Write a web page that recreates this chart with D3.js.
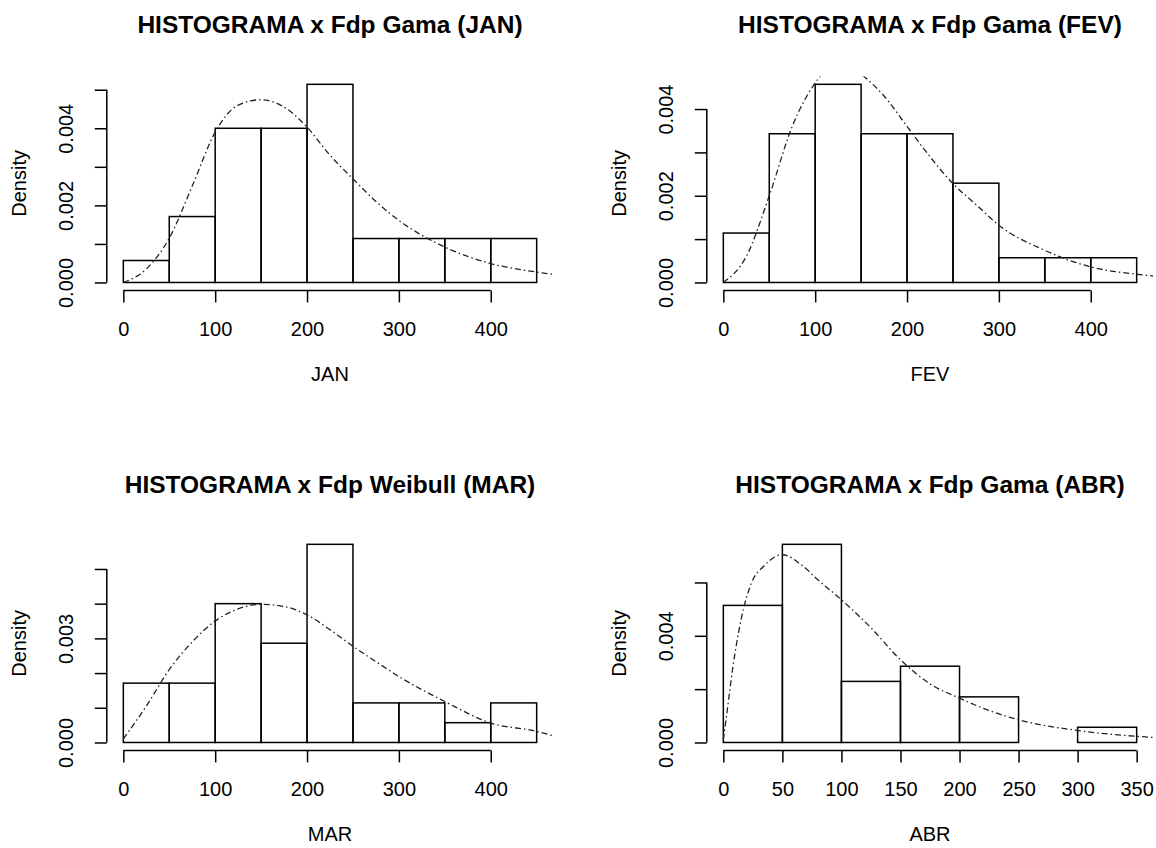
<!DOCTYPE html>
<html>
<head>
<meta charset="utf-8">
<script src="https://cdn.jsdelivr.net/npm/d3@7"></script>
<style>
body { margin: 0; background: #fff; }
text { font-family: "Liberation Sans", Arial, Helvetica, sans-serif; fill: #000; }
</style>
</head>
<body>
<script>
// Histogram breaks (bins of width 50)
var breaksMain = [0, 50, 100, 150, 200, 250, 300, 350, 400, 450],
    breaksAbr = [0, 50, 100, 150, 200, 250, 300, 350];

// Bar densities
var densJan = [0.00057, 0.00171, 0.0040, 0.0040, 0.00514, 0.00114, 0.00114, 0.00114, 0.00114],
    densFev = [0.00114, 0.00343, 0.00457, 0.00343, 0.00343, 0.00229, 0.00057, 0.00057, 0.00057],
    densMar = [0.00171, 0.00171, 0.0040, 0.00286, 0.00571, 0.00114, 0.00114, 0.00057, 0.00114],
    densAbr = [0.00514, 0.00743, 0.00229, 0.00286, 0.00171, 0, 0.00057];

// Fitted density curves
var curveXJan = [0, 25, 50, 75, 100, 125, 150, 175, 200, 225, 250, 275, 300, 350, 400, 450, 468],
    curveYJan = [0, 0.00035, 0.00115, 0.0025, 0.0039, 0.0046, 0.00474, 0.00455, 0.00403, 0.0033, 0.00269, 0.0021, 0.00161, 0.00092, 0.00049, 0.00027, 0.00021];
var curveXFev = [0, 25, 50, 75, 100, 125, 150, 175, 200, 225, 250, 275, 300, 350, 400, 450, 468],
    curveYFev = [0, 0.0006, 0.002, 0.0036, 0.0046, 0.0051, 0.0048, 0.0043, 0.0036, 0.0029, 0.00228, 0.0018, 0.00132, 0.00074, 0.00036, 0.00019, 0.00015];
var curveXMar = [0, 25, 50, 75, 100, 125, 150, 175, 200, 225, 250, 275, 300, 350, 400, 450, 468],
    curveYMar = [0.0001, 0.00105, 0.0021, 0.0029, 0.0035, 0.00385, 0.00398, 0.00392, 0.00368, 0.00325, 0.00277, 0.00233, 0.0019, 0.00118, 0.00056, 0.00032, 0.00019];
var curveXAbr = [0, 3, 8, 15, 24, 34, 50, 65, 80, 100, 125, 150, 175, 200, 225, 250, 300, 350, 364],
    curveYAbr = [0.0001, 0.0011, 0.0028, 0.0046, 0.006, 0.0066, 0.00704, 0.0067, 0.0061, 0.00535, 0.0043, 0.0031, 0.0022, 0.00166, 0.0012, 0.00085, 0.00045, 0.00023, 0.00019];

// Axis ticks and labels
var xTicksMain = [0, 100, 200, 300, 400],
    xTicksAbr = [0, 50, 100, 150, 200, 250, 300, 350];
var yTicksJan = [0, 0.001, 0.002, 0.003, 0.004, 0.005],
    yLabelsJan = ["0.000", "", "0.002", "", "0.004", ""];
var yTicksFev = [0, 0.001, 0.002, 0.003, 0.004],
    yLabelsFev = ["0.000", "", "0.002", "", "0.004"];
var yTicksMar = [0, 0.001, 0.002, 0.003, 0.004, 0.005],
    yLabelsMar = ["0.000", "", "", "0.003", "", ""];
var yTicksAbr = [0, 0.002, 0.004, 0.006],
    yLabelsAbr = ["0.000", "", "0.004", ""];

var titles = ["HISTOGRAMA x Fdp Gama (JAN)", "HISTOGRAMA x Fdp Gama (FEV)",
              "HISTOGRAMA x Fdp Weibull (MAR)", "HISTOGRAMA x Fdp Gama (ABR)"];
var xNames = ["JAN", "FEV", "MAR", "ABR"];

var panels = [
    { breaks: breaksMain, dens: densJan, cx: curveXJan, cy: curveYJan, xt: xTicksMain, yt: yTicksJan, yl: yLabelsJan },
    { breaks: breaksMain, dens: densFev, cx: curveXFev, cy: curveYFev, xt: xTicksMain, yt: yTicksFev, yl: yLabelsFev },
    { breaks: breaksMain, dens: densMar, cx: curveXMar, cy: curveYMar, xt: xTicksMain, yt: yTicksMar, yl: yLabelsMar },
    { breaks: breaksAbr, dens: densAbr, cx: curveXAbr, cy: curveYAbr, xt: xTicksAbr, yt: yTicksAbr, yl: yLabelsAbr }
];

var W = 1156, H = 848;
var plotW = 446.4, plotH = 214;

var svg = d3.select("body").append("svg")
    .attr("width", W)
    .attr("height", H);

var defs = svg.append("defs");

panels.forEach(function (p, i) {
    var col = i % 2, row = Math.floor(i / 2);
    var left = 106.8 + col * 600,
        top = 76.4 + row * 460,
        bottom = top + plotH;

    var xmax = p.breaks[p.breaks.length - 1],
        ymax = d3.max(p.dens);

    // R style 4% padding on both ends
    var x = d3.scaleLinear()
        .domain([-0.04 * xmax, 1.04 * xmax])
        .range([left, left + plotW]);
    var y = d3.scaleLinear()
        .domain([-0.04 * ymax, 1.04 * ymax])
        .range([bottom, top]);

    var g = svg.append("g").attr("class", "panel");

    defs.append("clipPath")
        .attr("id", "clip" + i)
        .append("rect")
        .attr("x", left)
        .attr("y", top)
        .attr("width", plotW)
        .attr("height", plotH);

    // title
    g.append("text")
        .attr("x", left + plotW / 2)
        .attr("y", top - 43)
        .style("text-anchor", "middle")
        .style("font-size", "24.5px")
        .style("font-weight", "bold")
        .text(titles[i]);

    // bars
    var bins = p.dens.map(function (d, j) {
        return { x0: p.breaks[j], x1: p.breaks[j + 1], d: d };
    });
    g.append("g")
        .selectAll("rect")
        .data(bins)
        .enter().append("rect")
        .attr("x", function (d) { return x(d.x0); })
        .attr("y", function (d) { return y(d.d); })
        .attr("width", function (d) { return x(d.x1) - x(d.x0); })
        .attr("height", function (d) { return y(0) - y(d.d); })
        .style("fill", "none")
        .style("stroke", "#000")
        .style("stroke-width", 1.5);

    // fitted curve
    var pts = p.cx.map(function (v, j) { return [v, p.cy[j]]; });
    var line = d3.line()
        .x(function (d) { return x(d[0]); })
        .y(function (d) { return y(d[1]); })
        .curve(d3.curveMonotoneX);
    g.append("path")
        .datum(pts)
        .attr("clip-path", "url(#clip" + i + ")")
        .attr("d", line)
        .style("fill", "none")
        .style("stroke", "#222")
        .style("stroke-width", 1.3)
        .style("stroke-dasharray", "6,3,1.5,3");

    // x axis
    var xAxis = d3.axisBottom(x)
        .tickValues(p.xt)
        .tickSize(12)
        .tickFormat(d3.format("d"));
    var gx = g.append("g")
        .attr("transform", "translate(0," + bottom + ")")
        .call(xAxis);
    gx.select(".domain").remove();
    gx.append("line")
        .attr("x1", x(p.xt[0]))
        .attr("x2", x(p.xt[p.xt.length - 1]))
        .attr("stroke", "#000");
    gx.selectAll("line").style("stroke-width", 1.5);
    gx.selectAll("text")
        .attr("y", 46)
        .attr("dy", 0)
        .style("font-size", "20px")
        .style("font-family", "'Liberation Sans', Arial, sans-serif");

    g.append("text")
        .attr("x", left + plotW / 2)
        .attr("y", bottom + 91)
        .style("text-anchor", "middle")
        .style("font-size", "20px")
        .text(xNames[i]);

    // y axis
    var yAxis = d3.axisLeft(y)
        .tickValues(p.yt)
        .tickSize(12)
        .tickFormat(function (d, k) { return p.yl[k]; });
    var gy = g.append("g")
        .attr("transform", "translate(" + left + ",0)")
        .call(yAxis);
    gy.select(".domain").remove();
    gy.append("line")
        .attr("y1", y(p.yt[0]))
        .attr("y2", y(p.yt[p.yt.length - 1]))
        .attr("stroke", "#000");
    gy.selectAll("line").style("stroke-width", 1.5);
    gy.selectAll("text")
        .attr("x", 0)
        .attr("y", -34)
        .attr("dy", 0)
        .attr("transform", "rotate(-90)")
        .style("text-anchor", "middle")
        .style("font-size", "20px")
        .style("font-family", "'Liberation Sans', Arial, sans-serif");

    g.append("text")
        .attr("transform", "translate(" + (left - 81) + "," + (top + plotH / 2) + ") rotate(-90)")
        .style("text-anchor", "middle")
        .style("font-size", "20px")
        .text("Density");
});
</script>
</body>
</html>
